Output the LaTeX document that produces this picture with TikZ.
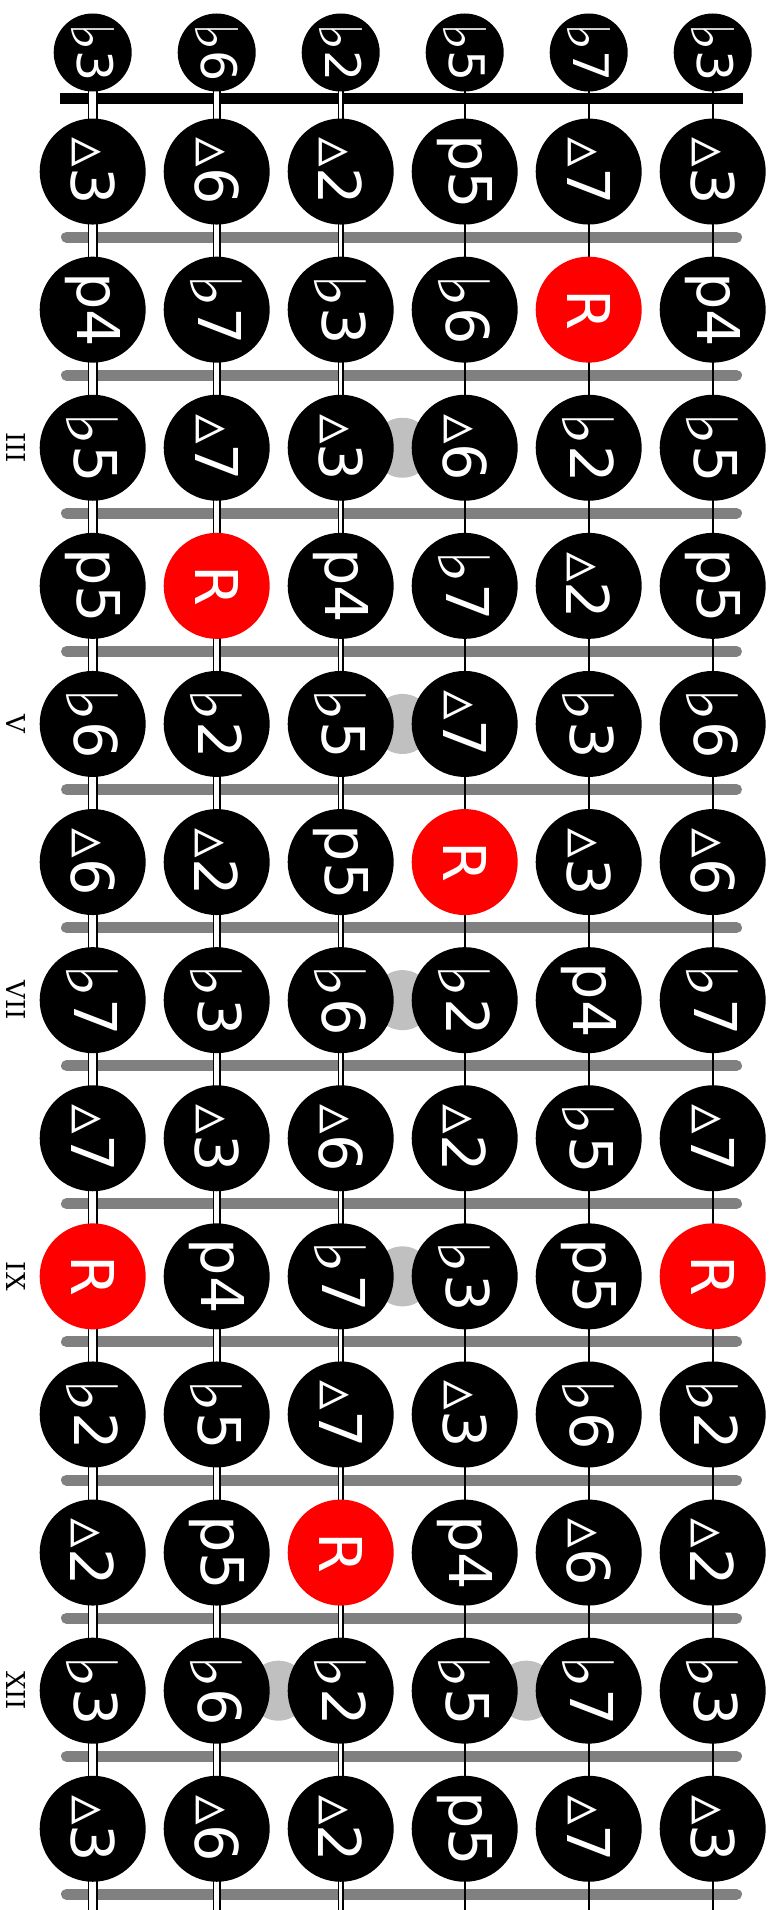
\documentclass[tikz,border=0pt]{standalone}
\usepackage{fontspec}
\setmainfont{DejaVu Sans}
\newfontfamily\markfont{DejaVu Serif}
\definecolor{dotgray}{HTML}{C0C0C0}
\protected\def\fl{\raisebox{-0.12em}{\scalebox{1.2}{♭}}}

\tikzset{
  note/.style={circle, fill=black, text=white, inner sep=0pt, minimum size=106,
    rotate=-90, font=\fontsize{59}{59}\selectfont},
  open note/.style={note, minimum size=78, font=\fontsize{49}{49}\selectfont},
  fret/.style={gray, line width=11, line cap=round},
  wound/.style={line width=1.5, double=white, double distance=#1},
  plain/.style={line width=1.6},
  marker/.style={circle, fill=dotgray, inner sep=0pt, minimum size=60},
  posmark/.style={rotate=-90, font=\markfont\fontsize{26}{26}\selectfont}
}

\begin{document}
\begin{tikzpicture}[x=1pt, y=-1pt]
  \useasboundingbox (0,0) rectangle (777,1910);

  % Frets and nut
  \foreach \fr in {1,...,13}
    \draw[fret] (66.5,99+138.1*\fr) -- (736.5,99+138.1*\fr);
  \fill (60,92.7) rectangle (743,104);

  % Inlays
  \foreach \fr in {3,5,7,9}
    \node[marker] (dot\fr) at (402.5,33.45+138.1*\fr) {};
  \node[marker] (dot12a) at (278.4,1690.65) {};
  \node[marker] (dot12b) at (526.3,1690.65) {};

  % Strings
  \foreach \st/\w in {1/7, 2/4.7, 3/3.3}
    \draw[wound=\w] (-31.3+124*\st,52.5) -- (-31.3+124*\st,1910);
  \foreach \st in {4,5,6}
    \draw[plain] (-31.3+124*\st,52.5) -- (-31.3+124*\st,1910);

  % Open strings
  \foreach \t [count=\st] in {\fl3,\fl6,\fl2,\fl5,\fl7,\fl3}
    \node[open note] (o\st) at (-31.3+124*\st,52.5) {\t};

  % Fretted notes
  \def\rootlab{R}
  \foreach \row [count=\fr] in {
      {▵3,▵6,▵2,p5,▵7,▵3},
      {p4,\fl7,\fl3,\fl6,R,p4},
      {\fl5,▵7,▵3,▵6,\fl2,\fl5},
      {p5,R,p4,\fl7,▵2,p5},
      {\fl6,\fl2,\fl5,▵7,\fl3,\fl6},
      {▵6,▵2,p5,R,▵3,▵6},
      {\fl7,\fl3,\fl6,\fl2,p4,\fl7},
      {▵7,▵3,▵6,▵2,\fl5,▵7},
      {R,p4,\fl7,\fl3,p5,R},
      {\fl2,\fl5,▵7,▵3,\fl6,\fl2},
      {▵2,p5,R,p4,▵6,▵2},
      {\fl3,\fl6,\fl2,\fl5,\fl7,\fl3},
      {▵3,▵6,▵2,p5,▵7,▵3}} {
    \foreach \t [count=\st] in \row {
      \edef\lab{\t}
      \ifx\lab\rootlab \def\notecol{red}\else \def\notecol{black}\fi
      \node[note, fill=\notecol] (n\fr-\st) at (-31.3+124*\st,33.45+138.1*\fr) {\t};
    }
  }

  % Position marks
  \foreach \lab/\fr in {III/3, V/5, VII/7, IX/9, XII/12}
    \node[posmark] (pos\fr) at (15.5,33.45+138.1*\fr) {\lab};
\end{tikzpicture}
\end{document}
